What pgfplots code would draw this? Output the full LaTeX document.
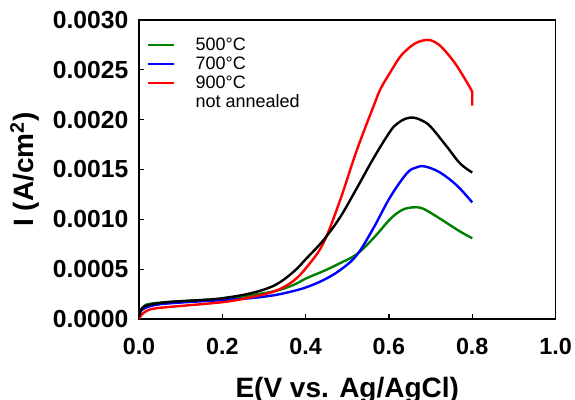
\documentclass[border=0pt]{standalone}
\usepackage{fontspec}
\setmainfont{Liberation Sans}
\usepackage{pgfplots}
\pgfplotsset{compat=1.18}

\definecolor{cvgreen}{RGB}{0,128,0}
\definecolor{cvblue}{RGB}{0,0,255}
\definecolor{cvred}{RGB}{255,0,0}

\begin{document}
\begin{tikzpicture}
	\begin{axis}[
		scale only axis,
		width=312.4pt,
		height=224.25pt,
		xmin=0, xmax=1.0,
		ymin=0, ymax=0.003,
		xtick={0,0.2,0.4,0.6,0.8,1.0},
		ytick={0,0.0005,0.001,0.0015,0.002,0.0025,0.003},
		scaled y ticks=false,
		scaled x ticks=false,
		tick align=inside,
		xtick pos=bottom,
		ytick pos=left,
		major tick length=4pt,
		axis line style={line width=1.3pt},
		tick style={line width=1pt, black},
		/pgf/number format/assume math mode=true,
		xticklabel style={font=\fontsize{17.5}{20}\selectfont\bfseries, yshift=-10.5pt,
			/pgf/number format/.cd, fixed, fixed zerofill, precision=1},
		yticklabel style={font=\fontsize{18.5}{21}\selectfont\bfseries, xshift=-4.5pt,
			/pgf/number format/.cd, fixed, fixed zerofill, precision=4},
		xlabel={E(V vs. Ag/AgCl)},
		ylabel={I (A/cm\textsuperscript{2})},
		xlabel style={font=\fontsize{21}{24}\selectfont\bfseries, yshift=-10.5pt},
		ylabel style={font=\fontsize{21}{24}\selectfont\bfseries, yshift=3pt},
		legend style={
			at={(rel axis cs:0.01,0.96)}, anchor=north west,
			draw=none, fill=none,
			font=\fontsize{13.5}{15}\selectfont,
			row sep=-0.6pt,
			/tikz/every odd column/.append style={column sep=13pt},
		},
		legend cell align={left},
		legend image code/.code={\draw[#1, line width=1.6pt] (0pt,0pt) -- (19.5pt,0pt);},
		every axis plot/.append style={line width=1.8pt},
		]
		% 500 C
		\addplot[cvgreen, smooth, tension=0.6] coordinates {
			(0,0.00005) (0.005,0.0001) (0.0104,0.00012) (0.0224,0.00015) (0.07,0.00017)
			(0.15,0.00019) (0.2025,0.0002) (0.27,0.00024) (0.3265,0.00028) (0.37,0.00034)
			(0.4026,0.00041) (0.4425,0.00048) (0.4826,0.00056) (0.5226,0.00065) (0.5626,0.00081)
			(0.6026,0.00100) (0.63,0.00109) (0.655,0.00112) (0.68,0.00111) (0.71,0.00104)
			(0.74,0.00096) (0.77,0.00088) (0.8,0.00081)
		};
		\addlegendentry{500°C}
		% 700 C
		\addplot[cvblue, smooth, tension=0.6] coordinates {
			(0,0.00003) (0.0064,0.00009) (0.038,0.00014) (0.1,0.000165) (0.2025,0.00019)
			(0.27,0.00021) (0.3265,0.00024) (0.37,0.00028) (0.4026,0.00032) (0.4425,0.00039)
			(0.4826,0.00049) (0.5226,0.00064) (0.5626,0.00091) (0.6026,0.00122) (0.6427,0.00146)
			(0.665,0.00152) (0.6867,0.00153) (0.7227,0.00147) (0.763,0.00134) (0.8,0.00117)
		};
		\addlegendentry{700°C}
		% 900 C
		\addplot[cvred, smooth, tension=0.6] coordinates {
			(0,0) (0.0024,0.00002) (0.0104,0.00006) (0.0304,0.0001) (0.0704,0.00012)
			(0.2025,0.00017) (0.27,0.00022) (0.3265,0.00028) (0.37,0.00038) (0.4026,0.00052)
			(0.4425,0.00076) (0.4826,0.00119) (0.5226,0.00169) (0.5626,0.00213) (0.58,0.00231)
			(0.6026,0.00247) (0.625,0.00262) (0.6427,0.00270) (0.665,0.00277) (0.6907,0.0028)
			(0.71,0.00278) (0.7306,0.00271) (0.763,0.00254) (0.799,0.00229)
		};
		\addlegendentry{900°C}
		\addplot[cvred, sharp plot, forget plot] coordinates {(0.799,0.00229) (0.8,0.00228) (0.8,0.00214)};
		% not annealed
		\addplot[black, smooth, tension=0.6, forget plot] coordinates {
			(0,0.00002) (0.0064,0.0001) (0.0224,0.00014) (0.07,0.00017) (0.15,0.00019)
			(0.2025,0.00021) (0.27,0.00026) (0.3265,0.00034) (0.37,0.00047) (0.4026,0.00061)
			(0.4425,0.00079) (0.4826,0.00102) (0.5226,0.00131) (0.5626,0.00161) (0.6026,0.00188)
			(0.62,0.00196) (0.64,0.00201) (0.66,0.00202) (0.68,0.00199) (0.70,0.00193)
			(0.739,0.00173) (0.771,0.00156) (0.8,0.00147)
		};
		\addlegendimage{legend image code/.code={}}
		\addlegendentry{not annealed}
	\end{axis}
	\pgfresetboundingbox
	\path (-104.25pt,-60.75pt) rectangle (327pt,239.25pt);
\end{tikzpicture}
\end{document}
